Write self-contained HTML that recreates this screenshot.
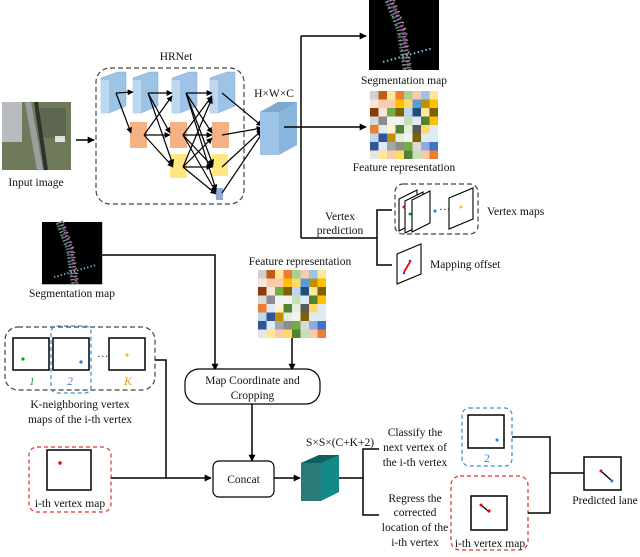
<!DOCTYPE html>
<html><head><meta charset="utf-8"><style>
html,body{margin:0;padding:0;background:#fff}
svg{display:block}
text{font-family:"Liberation Serif",serif;font-size:11.5px;fill:#111}
</style></head><body>
<svg width="640" height="557" viewBox="0 0 640 557" xmlns="http://www.w3.org/2000/svg">
<defs>
<marker id="a" viewBox="0 0 10 10" refX="9" refY="5" markerWidth="7" markerHeight="7" orient="auto-start-reverse" markerUnits="userSpaceOnUse"><path d="M0,0L10,5L0,10z" fill="#000"/></marker>
<marker id="s" viewBox="0 0 10 10" refX="9" refY="5" markerWidth="6" markerHeight="6" orient="auto" markerUnits="userSpaceOnUse"><path d="M0,0L10,5L0,10z" fill="#000"/></marker>
<g id="grid">
<rect x="0" y="0" width="68" height="68" fill="#e8eef5"/>
<rect x="0" y="0" width="8.5" height="8.5" fill="#cfcfcf"/><rect x="8.5" y="0" width="8.5" height="8.5" fill="#c55a11"/><rect x="17" y="0" width="8.5" height="8.5" fill="#ffe699"/><rect x="25.5" y="0" width="8.5" height="8.5" fill="#ed7d31"/><rect x="34" y="0" width="8.5" height="8.5" fill="#a9d18e"/><rect x="42.5" y="0" width="8.5" height="8.5" fill="#f8cbad"/><rect x="51" y="0" width="8.5" height="8.5" fill="#9dc3e6"/><rect x="59.5" y="0" width="8.5" height="8.5" fill="#ffe699"/>
<rect x="0" y="8.5" width="8.5" height="8.5" fill="#fbe5d6"/><rect x="8.5" y="8.5" width="17" height="8.5" fill="#f8cbad"/><rect x="25.5" y="8.5" width="8.5" height="8.5" fill="#ffc000"/><rect x="34" y="8.5" width="8.5" height="8.5" fill="#ffd966"/><rect x="42.5" y="8.5" width="8.5" height="8.5" fill="#5b9bd5"/><rect x="51" y="8.5" width="8.5" height="8.5" fill="#bf9000"/><rect x="59.5" y="8.5" width="8.5" height="8.5" fill="#ffc000"/>
<rect x="0" y="17" width="8.5" height="8.5" fill="#843c0c"/><rect x="8.5" y="17" width="8.5" height="8.5" fill="#fbe5d6"/><rect x="17" y="17" width="8.5" height="8.5" fill="#70ad47"/><rect x="25.5" y="17" width="8.5" height="8.5" fill="#7f6000"/><rect x="34" y="17" width="8.5" height="8.5" fill="#bdd7ee"/><rect x="42.5" y="17" width="8.5" height="8.5" fill="#1f4e79"/><rect x="51" y="17" width="8.5" height="8.5" fill="#ffe699"/><rect x="59.5" y="17" width="8.5" height="8.5" fill="#7f6000"/>
<rect x="0" y="25.5" width="8.5" height="8.5" fill="#d9d9d9"/><rect x="8.5" y="25.5" width="8.5" height="8.5" fill="#8c8c8c"/><rect x="17" y="25.5" width="17" height="8.5" fill="#f2f2f2"/><rect x="34" y="25.5" width="8.5" height="8.5" fill="#c5e0b4"/><rect x="42.5" y="25.5" width="8.5" height="8.5" fill="#deebf7"/><rect x="51" y="25.5" width="8.5" height="8.5" fill="#548235"/><rect x="59.5" y="25.5" width="8.5" height="8.5" fill="#ffc000"/>
<rect x="0" y="34" width="8.5" height="8.5" fill="#ed7d31"/><rect x="8.5" y="34" width="8.5" height="8.5" fill="#deebf7"/><rect x="17" y="34" width="8.5" height="8.5" fill="#fff2cc"/><rect x="25.5" y="34" width="8.5" height="8.5" fill="#548235"/><rect x="34" y="34" width="8.5" height="8.5" fill="#e2f0d9"/><rect x="42.5" y="34" width="8.5" height="8.5" fill="#595959"/><rect x="51" y="34" width="8.5" height="8.5" fill="#ffd966"/><rect x="59.5" y="34" width="8.5" height="8.5" fill="#deebf7"/>
<rect x="0" y="42.5" width="8.5" height="8.5" fill="#bdd7ee"/><rect x="8.5" y="42.5" width="8.5" height="8.5" fill="#2f5597"/><rect x="17" y="42.5" width="8.5" height="8.5" fill="#bf9000"/><rect x="25.5" y="42.5" width="8.5" height="8.5" fill="#e2f0d9"/><rect x="34" y="42.5" width="8.5" height="8.5" fill="#f2f2f2"/><rect x="42.5" y="42.5" width="8.5" height="8.5" fill="#7f6000"/><rect x="51" y="42.5" width="17" height="8.5" fill="#deebf7"/>
<rect x="0" y="51" width="8.5" height="8.5" fill="#2f5597"/><rect x="8.5" y="51" width="8.5" height="8.5" fill="#deebf7"/><rect x="17" y="51" width="8.5" height="8.5" fill="#a6a6a6"/><rect x="25.5" y="51" width="8.5" height="8.5" fill="#8c8c8c"/><rect x="34" y="51" width="8.5" height="8.5" fill="#70ad47"/><rect x="42.5" y="51" width="8.5" height="8.5" fill="#d9d9d9"/><rect x="51" y="51" width="8.5" height="8.5" fill="#8faadc"/><rect x="59.5" y="51" width="8.5" height="8.5" fill="#4472c4"/>
<rect x="0" y="59.5" width="8.5" height="8.5" fill="#e7e6e6"/><rect x="8.5" y="59.5" width="8.5" height="8.5" fill="#ffe699"/><rect x="17" y="59.5" width="8.5" height="8.5" fill="#f8cbad"/><rect x="25.5" y="59.5" width="8.5" height="8.5" fill="#ffd966"/><rect x="34" y="59.5" width="8.5" height="8.5" fill="#548235"/><rect x="42.5" y="59.5" width="8.5" height="8.5" fill="#c5e0b4"/><rect x="51" y="59.5" width="8.5" height="8.5" fill="#f8cbad"/><rect x="59.5" y="59.5" width="8.5" height="8.5" fill="#ed7d31"/>
</g>
<g id="seg">
<rect x="0" y="0" width="70" height="70" fill="#000"/>
<path d="M20,0 L32,30 L38,70" stroke="#70708a" stroke-width="9" stroke-dasharray="1.5 2" fill="none"/>
<path d="M22,0 L34,30 L40,70" stroke="#d060d0" stroke-width="3" stroke-dasharray="1 3" fill="none"/>
<path d="M18,2 L30,32 L36,70" stroke="#60d060" stroke-width="2" stroke-dasharray="1 4" fill="none"/>
<path d="M25,0 L37,30 L42,70" stroke="#e0d040" stroke-width="2" stroke-dasharray="1 5" fill="none"/>
<path d="M14,62 L64,48" stroke="#80c0e0" stroke-width="2" stroke-dasharray="1.5 2.5" fill="none"/>
</g>
</defs>

<!-- Input image -->
<rect x="2" y="102" width="69" height="68" fill="#6f7a5a"/>
<rect x="2" y="102" width="20" height="40" fill="#b8bcc0"/>
<rect x="40" y="108" width="26" height="30" fill="#5c6650"/>
<path d="M28,102 L40,170" stroke="#9aa0a0" stroke-width="6"/>
<path d="M36,102 L46,170" stroke="#30302c" stroke-width="4"/>
<rect x="55" y="136" width="10" height="6" fill="#e0e0e0"/>
<text x="36" y="186" text-anchor="middle">Input image</text>
<line x1="76" y1="140" x2="94" y2="140" stroke="#000" stroke-width="1.5" marker-end="url(#a)"/>

<!-- HRNet -->
<text x="176" y="60" text-anchor="middle">HRNet</text>
<rect x="96" y="68" width="148" height="136" rx="14" fill="none" stroke="#444" stroke-dasharray="5 3" stroke-width="1.2"/>
<g fill="#9dc3e6" stroke="#7fa8cc" stroke-width="0.5">
<path d="M101,78 L118,72 L126,72 L126,106 L109,113 L101,113z"/>
<path d="M133,78 L150,72 L158,72 L158,106 L141,113 L133,113z"/>
<path d="M172,78 L189,72 L197,72 L197,106 L180,113 L172,113z"/>
<path d="M210,78 L227,72 L235,72 L235,106 L218,113 L210,113z"/>
</g>
<g fill="#bdd7ee"><rect x="101" y="80" width="8" height="33"/><rect x="133" y="80" width="8" height="33"/><rect x="172" y="80" width="8" height="33"/><rect x="210" y="80" width="8" height="33"/></g>
<g fill="#f4b183"><rect x="130" y="122" width="17" height="26"/><rect x="170" y="122" width="17" height="26"/><rect x="212" y="122" width="17" height="26"/></g>
<g fill="#ffe680"><rect x="170" y="154" width="17" height="24"/><rect x="212" y="154" width="16" height="22"/></g>
<rect x="216" y="188" width="7" height="12" fill="#8faadc"/>
<g stroke="#000" stroke-width="1.2" marker-end="url(#s)" fill="none">
<line x1="116" y1="93" x2="133" y2="92"/><line x1="116" y1="93" x2="131" y2="133"/>
<line x1="148" y1="93" x2="172" y2="93"/><line x1="148" y1="93" x2="170" y2="133"/><line x1="148" y1="93" x2="173" y2="165"/>
<line x1="144" y1="135" x2="172" y2="96"/><line x1="144" y1="135" x2="170" y2="135"/><line x1="144" y1="135" x2="173" y2="167"/>
<line x1="186" y1="93" x2="212" y2="93"/><line x1="186" y1="93" x2="212" y2="133"/><line x1="186" y1="93" x2="213" y2="165"/><line x1="186" y1="93" x2="216" y2="190"/>
<line x1="183" y1="135" x2="212" y2="96"/><line x1="183" y1="135" x2="212" y2="135"/><line x1="183" y1="135" x2="213" y2="167"/><line x1="183" y1="135" x2="216" y2="192"/>
<line x1="183" y1="167" x2="212" y2="98"/><line x1="183" y1="167" x2="212" y2="138"/><line x1="183" y1="167" x2="212" y2="167"/><line x1="183" y1="167" x2="216" y2="194"/>
<line x1="222" y1="93" x2="262" y2="126"/><line x1="222" y1="135" x2="262" y2="128"/><line x1="222" y1="167" x2="262" y2="130"/><line x1="222" y1="193" x2="263" y2="132"/>
</g>
<!-- HxWxC cube -->
<text x="274" y="97" text-anchor="middle">H×W×C</text>
<path d="M260,112 L278,102 L297,102 L297,145 L278,155 L260,155z" fill="#9dc3e6"/>
<path d="M260,112 L278,102 L297,102 L279,112z" fill="#7fa8d0"/>
<path d="M279,112 L297,102 L297,145 L279,155z" fill="#8ab6de"/>
<line x1="284" y1="127" x2="301" y2="127" stroke="#000" stroke-width="1.5"/>
<line x1="301" y1="36" x2="301" y2="238" stroke="#000" stroke-width="1.5"/>
<line x1="301" y1="36" x2="366" y2="36" stroke="#000" stroke-width="1.5" marker-end="url(#a)"/>
<line x1="301" y1="127" x2="366" y2="127" stroke="#000" stroke-width="1.5" marker-end="url(#a)"/>
<use href="#seg" x="369" y="0"/>
<text x="404" y="84" text-anchor="middle">Segmentation map</text>
<use href="#grid" x="370" y="91"/>
<text x="404" y="171" text-anchor="middle">Feature representation</text>

<!-- Vertex prediction -->
<text x="340" y="220" text-anchor="middle">Vertex</text>
<text x="340" y="234" text-anchor="middle">prediction</text>
<line x1="301" y1="238" x2="377" y2="238" stroke="#000" stroke-width="1.5"/>
<polyline points="392,210 377,210 377,265 392,265" fill="none" stroke="#000" stroke-width="1.5"/>
<rect x="395" y="184" width="83" height="50" rx="8" fill="none" stroke="#444" stroke-dasharray="5 3" stroke-width="1.2"/>
<g fill="#fff" stroke="#000" stroke-width="1.1">
<path d="M399,199 L417,190 L417,222 L399,231z"/>
<path d="M405,201 L423,192 L423,224 L405,233z"/>
<path d="M412,200 L430,191 L430,223 L412,232z"/>
<path d="M449,198 L473,188 L473,219 L449,229z"/>
<path d="M397,254 L421,244 L421,274 L397,284z"/>
</g>
<circle cx="404" cy="207" r="1.5" fill="#e00"/><circle cx="410" cy="214" r="1.5" fill="#0a0"/><circle cx="435" cy="211" r="1.5" fill="#2a7ad0"/><circle cx="461" cy="207" r="1.5" fill="#ffc000"/>
<text x="439" y="213" font-size="9">···</text>
<line x1="404" y1="272" x2="410" y2="262" stroke="#e00" stroke-width="1.8"/>
<circle cx="404" cy="273" r="1.3" fill="#2a5ad0"/><circle cx="410" cy="261" r="1.3" fill="#6030a0"/>
<text x="487" y="215">Vertex maps</text>
<text x="430" y="268">Mapping offset</text>

<!-- Middle -->
<use href="#seg" transform="translate(42,222) scale(0.86,0.89)"/>
<text x="72" y="297" text-anchor="middle">Segmentation map</text>
<polyline points="102,255 215,255 215,370" fill="none" stroke="#000" stroke-width="1.5" marker-end="url(#a)"/>
<text x="300" y="265" text-anchor="middle">Feature representation</text>
<use href="#grid" x="258" y="270"/>
<line x1="292" y1="338" x2="292" y2="370" stroke="#000" stroke-width="1.5" marker-end="url(#a)"/>
<rect x="185" y="369" width="135" height="35" rx="14" fill="#fff" stroke="#000" stroke-width="1.2"/>
<text x="252.5" y="384" text-anchor="middle">Map Coordinate and</text>
<text x="252.5" y="399" text-anchor="middle">Cropping</text>
<line x1="252" y1="404" x2="252" y2="461" stroke="#000" stroke-width="1.5" marker-end="url(#a)"/>

<rect x="5" y="327" width="150" height="63" rx="13" fill="none" stroke="#444" stroke-dasharray="5 3" stroke-width="1.2"/>
<rect x="51" y="326" width="40" height="67" rx="6" fill="none" stroke="#3a8ad8" stroke-dasharray="4 3" stroke-width="1.2"/>
<g fill="#fff" stroke="#000" stroke-width="1.5"><rect x="13" y="338" width="36" height="32"/><rect x="53" y="338" width="36" height="32"/><rect x="109" y="338" width="36" height="32"/></g>
<circle cx="23" cy="359" r="1.6" fill="#0a0"/><circle cx="81" cy="362" r="1.6" fill="#2a7ad0"/><circle cx="127" cy="355" r="1.6" fill="#ffc000"/>
<text x="97" y="360" font-size="10">···</text>
<text x="32" y="385" text-anchor="middle" font-style="italic" font-size="11" style="fill:#3a9a3a">1</text>
<text x="70" y="385" text-anchor="middle" font-style="italic" font-size="11" style="fill:#3a8ad8">2</text>
<text x="128" y="385" text-anchor="middle" font-style="italic" font-size="11" style="fill:#e0a000">K</text>
<text x="80" y="408" text-anchor="middle">K-neighboring vertex</text>
<text x="80" y="423" text-anchor="middle">maps of the i-th vertex</text>
<polyline points="155,360 166,360 166,478" fill="none" stroke="#000" stroke-width="1.5"/>

<rect x="29" y="447" width="82" height="65" rx="8" fill="none" stroke="#e03030" stroke-dasharray="4 3" stroke-width="1.2"/>
<rect x="47" y="450" width="44" height="40" fill="#fff" stroke="#000" stroke-width="1.5"/>
<circle cx="60" cy="463" r="1.7" fill="#e00"/>
<text x="70" y="507" text-anchor="middle">i-th vertex map</text>
<line x1="111" y1="478" x2="211" y2="478" stroke="#000" stroke-width="1.5" marker-end="url(#a)"/>
<rect x="213" y="461" width="61" height="36" rx="6" fill="#fff" stroke="#000" stroke-width="1.2"/>
<text x="243.5" y="483" text-anchor="middle">Concat</text>
<line x1="274" y1="478" x2="300" y2="478" stroke="#000" stroke-width="1.5" marker-end="url(#a)"/>

<!-- teal cube -->
<text x="340" y="446" text-anchor="middle">S×S×(C+K+2)</text>
<path d="M301,463 L319,455 L339,455 L339,492 L321,501 L301,501z" fill="#138a8a"/>
<path d="M301,463 L319,455 L339,455 L321,463z" fill="#0e6060"/>
<rect x="301" y="463" width="20" height="38" fill="#2a7a7a"/>
<line x1="339" y1="478" x2="363" y2="478" stroke="#000" stroke-width="1.5"/>
<polyline points="379,449 363,449 363,515 379,515" fill="none" stroke="#000" stroke-width="1.5"/>
<text x="415" y="436" text-anchor="middle">Classify the</text>
<text x="415" y="451" text-anchor="middle">next vertex of</text>
<text x="415" y="466" text-anchor="middle">the i-th vertex</text>
<text x="415" y="502" text-anchor="middle">Regress the</text>
<text x="415" y="516" text-anchor="middle">corrected</text>
<text x="415" y="531" text-anchor="middle">location of the</text>
<text x="415" y="546" text-anchor="middle">i-th vertex</text>

<rect x="462" y="408" width="50" height="58" rx="7" fill="none" stroke="#3a8ad8" stroke-dasharray="4 3" stroke-width="1.2"/>
<rect x="468" y="415" width="36" height="33" fill="#fff" stroke="#000" stroke-width="1.5"/>
<circle cx="497" cy="440" r="1.5" fill="#2a7ad0"/>
<text x="487" y="462" text-anchor="middle" font-size="11" style="fill:#3a8ad8">2</text>
<rect x="451" y="476" width="77" height="74" rx="9" fill="none" stroke="#e03030" stroke-dasharray="4 3" stroke-width="1.2"/>
<rect x="471" y="496" width="36" height="34" fill="#fff" stroke="#000" stroke-width="1.5"/>
<line x1="481" y1="505" x2="488" y2="511" stroke="#000" stroke-width="1.3"/>
<circle cx="481" cy="505" r="1.5" fill="#e00"/><circle cx="489" cy="511" r="1.6" fill="#e00"/>
<text x="490" y="547" text-anchor="middle">i-th vertex map</text>
<polyline points="512,437 550,437 550,513 528,513" fill="none" stroke="#000" stroke-width="1.5"/>
<line x1="550" y1="473" x2="584" y2="473" stroke="#000" stroke-width="1.5"/>
<rect x="584" y="457" width="37" height="33" fill="#fff" stroke="#000" stroke-width="1.5"/>
<line x1="601" y1="471" x2="612" y2="481" stroke="#000" stroke-width="1.3"/>
<circle cx="601" cy="471" r="1.5" fill="#e00"/><circle cx="612" cy="481" r="1.5" fill="#2a7ad0"/>
<text x="605" y="504" text-anchor="middle">Predicted lane</text>
</svg>
</body></html>
